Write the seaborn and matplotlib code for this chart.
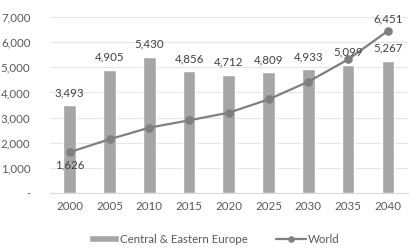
import matplotlib
matplotlib.use("Agg")
import matplotlib.pyplot as plt
import seaborn as sns
import pandas as pd

years = ["2000", "2005", "2010", "2015", "2020", "2025", "2030", "2035", "2040"]
cee = [3493, 4905, 5430, 4856, 4712, 4809, 4933, 5099, 5267]
world = [1626, 2136, 2600, 2890, 3195, 3725, 4430, 5316, 6451]

df = pd.DataFrame({"year": years, "cee": cee, "world": world})

sns.set_style("white")
plt.rcParams["font.family"] = ["Lato", "DejaVu Sans"]
txt = "#595959"

fig = plt.figure(figsize=(4.09, 2.48), dpi=100)
ax = fig.add_axes([0.122, 0.222, 0.875, 0.709])

sns.barplot(data=df, x="year", y="cee", color="#A6A6A6", width=0.32,
            saturation=1, ax=ax, label="Central & Eastern Europe")
sns.pointplot(data=df, x="year", y="world", color="#7F7F7F", marker="o",
              markersize=5, linewidth=1.6, ax=ax, label="World")

for i, v in enumerate(cee):
    ax.annotate(f"{v:,}", (i, v), xytext=(0, 5), textcoords="offset points",
                ha="center", va="bottom", fontsize=8.3, color="#404040")
ax.annotate(f"{world[0]:,}", (0, world[0]), xytext=(0, -5), textcoords="offset points",
            ha="center", va="top", fontsize=8.3, color="#404040")
ax.annotate(f"{world[-1]:,}", (8, world[-1]), xytext=(0, 5), textcoords="offset points",
            ha="center", va="bottom", fontsize=8.3, color="#404040")

ax.set_ylim(0, 7000)
ax.set_xlim(-0.5, 8.5)
ax.set_yticks(range(0, 7001, 1000))
ax.set_yticklabels(["-"] + [f"{v:,}" for v in range(1000, 7001, 1000)])
ax.yaxis.grid(True, color="#E6E6E6", linewidth=0.8)
ax.set_axisbelow(True)
ax.tick_params(axis="both", labelsize=8.3, colors=txt, length=0, pad=6)
ax.tick_params(axis="y", pad=14)
ax.set_xlabel("")
ax.set_ylabel("")
for s in ["top", "right", "left"]:
    ax.spines[s].set_visible(False)
ax.spines["bottom"].set_color("#D9D9D9")

h, l = ax.get_legend_handles_labels()
if ax.get_legend() is not None:
    ax.get_legend().remove()
order = [l.index("Central & Eastern Europe"), l.index("World")]
h = [h[i] for i in order]
l = [l[i] for i in order]
fig.legend(h, l, loc="center", bbox_to_anchor=(0.523, 0.035), ncol=2, frameon=False,
           fontsize=8.3, labelcolor=txt, handlelength=2.6, handletextpad=0.1,
           columnspacing=2.5, handleheight=0.5, markerscale=0.7)

fig.savefig("out.png", dpi=100)
